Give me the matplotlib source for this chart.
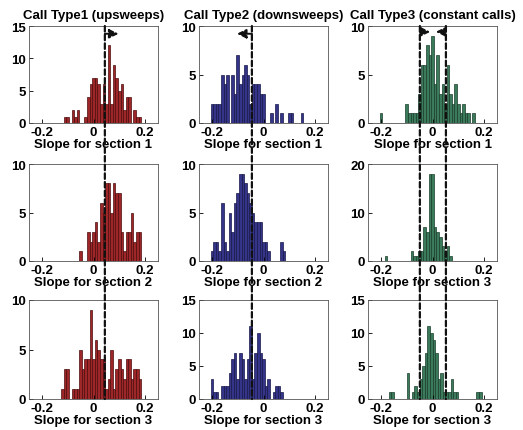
import numpy as np
import matplotlib
matplotlib.use('Agg')
import matplotlib.pyplot as plt
from matplotlib.patches import ConnectionPatch

plt.rcParams['font.family'] = ['Liberation Sans', 'DejaVu Sans']
plt.rcParams['font.weight'] = 'bold'
plt.rcParams['font.size'] = 9

BIN = 0.01

# histogram counts, one list per panel, first bin centre given separately
up_s1_start = -0.11
up_s1 = [1, 1, 0, 2, 1, 2, 0, 0, 1, 4, 6, 7, 7, 6, 3, 6, 3, 12, 3, 9, 7, 5, 6, 2, 4, 4, 0, 2, 1, 1]
up_s2_start = -0.05
up_s2 = [1, 0, 0, 3, 2, 3, 4, 2, 6, 5, 8, 8, 5, 8, 7, 7, 3, 1, 3, 3, 5, 2, 3, 3]
up_s3_start = -0.12
up_s3 = [1, 3, 3, 0, 1, 1, 1, 5, 3, 4, 4, 9, 4, 6, 5, 4, 4, 1, 2, 5, 1, 3, 4, 3, 2, 4, 4, 2, 3, 3, 2]

down_s1_start = -0.20
down_s1 = [2, 2, 2, 2, 5, 4, 5, 0, 5, 3, 7, 4, 5, 6, 5, 2, 4, 4, 4, 3, 3, 0, 0, 1, 0, 2, 0, 1, 0, 0, 1, 1, 0, 0, 0, 1]
down_s2_start = -0.20
down_s2 = [1, 2, 2, 1, 6, 2, 1, 5, 3, 6, 7, 9, 9, 8, 7, 6, 5, 4, 4, 4, 2, 2, 1, 0, 0, 0, 0, 2, 1]
down_s3_start = -0.20
down_s3 = [3, 1, 1, 0, 2, 2, 2, 4, 6, 7, 3, 7, 6, 3, 6, 11, 3, 7, 10, 7, 6, 2, 3, 0, 1, 2, 2, 1]

const_s1_start = -0.20
const_s1 = [1, 0, 0, 0, 0, 0, 0, 0, 0, 0, 2, 1, 1, 1, 1, 3, 6, 6, 8, 7, 9, 4, 7, 3, 4, 2, 6, 3, 2, 4, 2, 1, 2, 1, 1, 0, 1]
const_s2_start = -0.18
const_s2 = [1, 0, 0, 0, 0, 0, 0, 0, 0, 0, 2, 1, 1, 2, 2, 7, 6, 18, 18, 7, 6, 5, 3, 2, 3, 1]
const_s3_start = -0.165
const_s3 = [1, 1, 0, 0, 0, 0, 0, 4, 0, 1, 2, 1, 3, 5, 7, 11, 10, 9, 7, 3, 4, 1, 1, 1, 3, 1, 1, 0, 0, 0, 0, 0, 0, 0, 1, 1]

titles = ['Call Type1 (upsweeps)', 'Call Type2 (downsweeps)', 'Call Type3 (constant calls)']
xlabels = [['Slope for section 1'] * 3,
           ['Slope for section 2', 'Slope for section 2', 'Slope for section 3'],
           ['Slope for section 3'] * 3]
ylims = [[15, 10, 10], [10, 10, 20], [10, 15, 15]]
yticks = [[[0, 5, 10, 15], [0, 5, 10], [0, 5, 10]],
          [[0, 5, 10], [0, 5, 10], [0, 10, 20]],
          [[0, 5, 10], [0, 5, 10, 15], [0, 5, 10, 15]]]

# dashed boundaries per column
bounds = [[0.044], [-0.045], [-0.049, 0.052]]

data = [[(up_s1_start, up_s1), (down_s1_start, down_s1), (const_s1_start, const_s1)],
        [(up_s2_start, up_s2), (down_s2_start, down_s2), (const_s2_start, const_s2)],
        [(up_s3_start, up_s3), (down_s3_start, down_s3), (const_s3_start, const_s3)]]

faces = ['#9c2628', '#343489', '#3b7a5a']
edges = ['#4c0c0c', '#17174a', '#1a3d2a']

fig = plt.figure(figsize=(5.23, 4.31), dpi=100)

W, H = 523.0, 431.0
lefts = [29, 199, 368]
tops = [27, 165, 301]
bottoms = [124, 262, 400]

axes = [[None] * 3 for _ in range(3)]
for r in range(3):
    for c in range(3):
        ax = fig.add_axes([lefts[c] / W, 1 - bottoms[r] / H, 129 / W, (bottoms[r] - tops[r]) / H])
        start, counts = data[r][c]
        centers = start + BIN * np.arange(len(counts))
        ax.bar(centers, counts, width=BIN, color=faces[c], edgecolor=edges[c], linewidth=0.5)
        ax.set_xlim(-0.25, 0.25)
        ax.set_ylim(0, ylims[r][c])
        ax.set_xticks([-0.2, 0, 0.2])
        ax.set_xticklabels(['-0.2', '0', '0.2'])
        ax.set_yticks(yticks[r][c])
        ax.tick_params(direction='in', length=3, width=0.6, pad=2, labelsize=9.5)
        for s in ax.spines.values():
            s.set_linewidth(0.6)
            s.set_color('#555555')
        ax.set_xlabel(xlabels[r][c], fontsize=9.5, fontweight='bold', labelpad=0)
        if r == 0:
            ax.set_title(titles[c], fontsize=9.5, fontweight='bold', pad=6)
        axes[r][c] = ax

# vertical dashed lines running through all three rows of each column
for c in range(3):
    for x in bounds[c]:
        con = ConnectionPatch(xyA=(x, ylims[0][c]), coordsA=axes[0][c].transData,
                              xyB=(x, 0), coordsB=axes[2][c].transData,
                              linestyle=(0, (2.5, 1.4)), linewidth=1.6, color='#111111', zorder=10)
        fig.add_artist(con)

# direction arrows on the top row
arrow_kw = dict(arrowstyle='-|>,head_length=0.6,head_width=0.3', color='#111111',
                linestyle=(0, (2.5, 1.4)), linewidth=1.4, shrinkA=0, shrinkB=0)
axes[0][0].annotate('', xy=(0.097, 13.8), xytext=(0.044, 13.8), arrowprops=arrow_kw)
axes[0][1].annotate('', xy=(-0.103, 9.2), xytext=(-0.045, 9.2), arrowprops=arrow_kw)
axes[0][2].annotate('', xy=(-0.009, 9.4), xytext=(-0.049, 9.4), arrowprops=arrow_kw)
axes[0][2].annotate('', xy=(0.013, 9.4), xytext=(0.052, 9.4), arrowprops=arrow_kw)

plt.savefig('out.png', dpi=100)
